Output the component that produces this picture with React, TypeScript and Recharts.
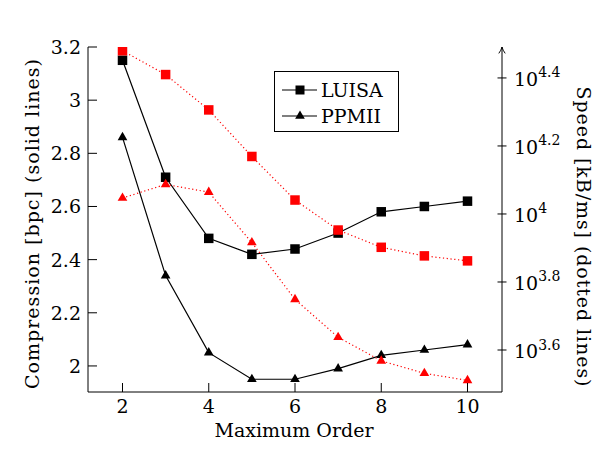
import React from 'react';
import { ComposedChart, Line, XAxis, YAxis, Legend, Label } from 'recharts';

// ---- data ----
const orders = [2, 3, 4, 5, 6, 7, 8, 9, 10];
const luisaBpc = [3.15, 2.71, 2.48, 2.42, 2.44, 2.5, 2.58, 2.6, 2.62];
const ppmiiBpc = [2.86, 2.34, 2.05, 1.95, 1.95, 1.99, 2.04, 2.06, 2.08];
// speeds in kB/ms (log axis)
const luisaSpeed = [30200, 25700, 20230, 14760, 10990, 8970, 7980, 7530, 7280];
const ppmiiSpeed = [11140, 12220, 11590, 8240, 5610, 4340, 3700, 3400, 3240];

const xTicks = [2, 4, 6, 8, 10];
const bpcTicks = [2, 2.2, 2.4, 2.6, 2.8, 3, 3.2];
const speedTickExponents = [3.6, 3.8, 4, 4.2, 4.4];
const seriesNames = ['LUISA', 'PPMII'];

const title = 'bpc x Compression Speed';
const xLabel = 'Maximum Order';
const leftLabel = 'Compression [bpc] (solid lines)';
const rightLabel = 'Speed [kB/ms] (dotted lines)';

const data = orders.map((o, i) => ({
  order: o,
  luisaBpc: luisaBpc[i],
  ppmiiBpc: ppmiiBpc[i],
  luisaSpeed: luisaSpeed[i],
  ppmiiSpeed: ppmiiSpeed[i],
}));

const speedTicks = speedTickExponents.map((e) => Math.pow(10, e));

const FONT = "'DejaVu Serif', serif";
const FS = 19;
const txt = { fontFamily: FONT, fontSize: FS, fill: '#000' } as const;
const TICK = 9;

const SquareDot = (color: string) => (props: any) => {
  const { cx, cy, index } = props;
  if (cx == null || cy == null) return null;
  const s = 9.5;
  return <rect key={`sq-${color}-${index}`} x={cx - s / 2} y={cy - s / 2} width={s} height={s} fill={color} stroke="none" />;
};

const TriangleDot = (color: string) => (props: any) => {
  const { cx, cy, index } = props;
  if (cx == null || cy == null) return null;
  const r = 5.6;
  const h = (r * Math.sqrt(3)) / 2;
  const pts = `${cx},${cy - r} ${cx + h},${cy + r / 2} ${cx - h},${cy + r / 2}`;
  return <polygon key={`tr-${color}-${index}`} points={pts} fill={color} stroke="none" />;
};

const BottomTick = (props: any) => {
  const { x, y, payload } = props;
  return (
    <g>
      <line x1={x} y1={y} x2={x} y2={y - TICK} stroke="#000" strokeWidth={1} />
      <text x={x} y={y + 21} textAnchor="middle" style={txt}>
        {payload.value}
      </text>
    </g>
  );
};

const TopTick = (props: any) => {
  const { x, y } = props;
  return <line x1={x} y1={y} x2={x} y2={y + TICK} stroke="#000" strokeWidth={1} />;
};

const LeftTick = (props: any) => {
  const { x, y, payload } = props;
  return (
    <g>
      <line x1={x} y1={y} x2={x + TICK} y2={y} stroke="#000" strokeWidth={1} />
      <text x={x - 7} y={y + 7} textAnchor="end" style={txt}>
        {String(payload.value)}
      </text>
    </g>
  );
};

const RightTick = (props: any) => {
  const { x, y, payload } = props;
  const e = Math.log10(payload.value);
  const es = Math.abs(e - Math.round(e)) < 1e-6 ? String(Math.round(e)) : e.toFixed(1);
  return (
    <g>
      <line x1={x - 4.5} y1={y} x2={x + 4.5} y2={y} stroke="#000" strokeWidth={1} />
      <text x={x + 12} y={y + 8} style={txt}>
        10
        <tspan dy={-8.5} style={{ fontSize: 14 }}>{es}</tspan>
      </text>
    </g>
  );
};

const LegendContent = () => (
  <div
    style={{
      border: '1px solid #000',
      background: '#fff',
      width: 123,
      height: 59,
      boxSizing: 'content-box',
      fontFamily: FONT,
      fontSize: FS,
      position: 'relative',
    }}
  >
    {seriesNames.map((name, i) => (
      <div key={name} style={{ position: 'absolute', left: 0, top: i === 0 ? 7 : 33, height: 22, display: 'flex', alignItems: 'center' }}>
        <svg width={46} height={22} style={{ display: 'block' }}>
          <line x1={7} y1={11} x2={42} y2={11} stroke="#000" strokeWidth={1.2} />
          {i === 0 ? (
            <rect x={25 - 4.5} y={11 - 4.5} width={9} height={9} fill="#000" />
          ) : (
            <polygon points={`25,${11 - 5.6} ${25 + 4.85},${11 + 2.8} ${25 - 4.85},${11 + 2.8}`} fill="#000" />
          )}
        </svg>
        <span style={{ lineHeight: '22px', color: '#000', whiteSpace: 'nowrap' }}>{name}</span>
      </div>
    ))}
  </div>
);

export default function App() {
  return (
    <div style={{ position: 'absolute', left: 0, top: 0, width: 597, height: 449, background: '#fff' }}>
      <svg width={0} height={0} style={{ position: 'absolute' }}>
        <defs>
          <marker id="axisArrow" viewBox="0 0 10 10" refX="9" refY="5" markerWidth="8" markerHeight="8" markerUnits="userSpaceOnUse" orient="auto-start-reverse">
            <path d="M1,1 Q5,4 9,5 Q5,6 1,9" fill="none" stroke="#000" strokeWidth={1.2} />
          </marker>
        </defs>
      </svg>
      <ComposedChart width={597} height={449} data={data} margin={{ top: 47, right: 0, bottom: 0, left: 0 }}>
        <XAxis
          xAxisId="bottom"
          dataKey="order"
          type="number"
          domain={[1.2, 10.8]}
          ticks={xTicks}
          allowDataOverflow
          height={57}
          tickSize={0}
          tickMargin={0}
          tickLine={false}
          tick={<BottomTick />}
          axisLine={{ stroke: '#000', strokeWidth: 1 }}
          interval={0}
        >
          <Label
            content={() => (
              <text x={294} y={437} textAnchor="middle" style={txt}>
                {xLabel}
              </text>
            )}
          />
        </XAxis>
        <XAxis
          xAxisId="top"
          orientation="top"
          dataKey="order"
          type="number"
          domain={[1.2, 10.8]}
          ticks={xTicks}
          allowDataOverflow
          height={0}
          tickSize={0}
          tickMargin={0}
          tickLine={false}
          tick={<TopTick />}
          axisLine={{ stroke: '#000', strokeWidth: 1 }}
          interval={0}
        >
          <Label
            content={() => (
              <text x={131} y={24} textAnchor="start" style={txt} textLength={237} lengthAdjust="spacing">
                {title}
              </text>
            )}
          />
        </XAxis>
        <YAxis
          yAxisId="left"
          orientation="left"
          type="number"
          domain={[1.902, 3.2]}
          ticks={bpcTicks}
          allowDataOverflow
          width={88}
          tickSize={0}
          tickMargin={0}
          tickLine={false}
          tick={<LeftTick />}
          axisLine={{ stroke: '#000', strokeWidth: 1 }}
          interval={0}
        >
          <Label
            content={() => (
              <text transform="translate(39,224) rotate(-90)" x={0} y={0} textAnchor="middle" style={txt} textLength={330} lengthAdjust="spacing">
                {leftLabel}
              </text>
            )}
          />
        </YAxis>
        <YAxis
          yAxisId="right"
          orientation="right"
          type="number"
          scale="log"
          domain={[2996, 30974]}
          ticks={speedTicks}
          allowDataOverflow
          width={95}
          tickSize={0}
          tickMargin={0}
          tickLine={false}
          tick={<RightTick />}
          axisLine={{ stroke: '#000', strokeWidth: 1, markerStart: 'url(#axisArrow)' }}
          interval={0}
        >
          <Label
            content={() => (
              <text transform="translate(577,236.5) rotate(90)" x={0} y={0} textAnchor="middle" style={txt} textLength={300} lengthAdjust="spacing">
                {rightLabel}
              </text>
            )}
          />
        </YAxis>
        <Legend
          layout="horizontal"
          verticalAlign="middle"
          align="center"
          content={<LegendContent />}
          wrapperStyle={{ position: 'absolute', left: 274, top: 71, width: 'auto', height: 'auto' }}
        />
        <Line xAxisId="bottom" yAxisId="left" dataKey="luisaBpc" stroke="#000" strokeWidth={1.2} dot={SquareDot('#000')} activeDot={false} isAnimationActive={false} legendType="none" />
        <Line xAxisId="bottom" yAxisId="left" dataKey="ppmiiBpc" stroke="#000" strokeWidth={1.2} dot={TriangleDot('#000')} activeDot={false} isAnimationActive={false} legendType="none" />
        <Line xAxisId="bottom" yAxisId="right" dataKey="luisaSpeed" stroke="#ff0000" strokeWidth={1.2} strokeDasharray="1.2 2.6" dot={SquareDot('#ff0000')} activeDot={false} isAnimationActive={false} legendType="none" />
        <Line xAxisId="bottom" yAxisId="right" dataKey="ppmiiSpeed" stroke="#ff0000" strokeWidth={1.2} strokeDasharray="1.2 2.6" dot={TriangleDot('#ff0000')} activeDot={false} isAnimationActive={false} legendType="none" />
      </ComposedChart>
    </div>
  );
}
